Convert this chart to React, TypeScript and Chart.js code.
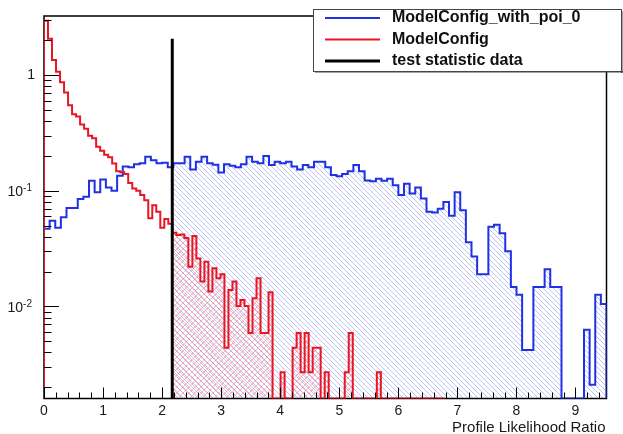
import React, { useEffect, useRef } from 'react';
import { Chart, registerables } from 'chart.js';

Chart.register(...registerables);

// ---- axis ranges ----
const X_MIN = 0;
const X_MAX = 9.525;
const Y_MIN = 0.0016;
const Y_MAX = 3.25;

// ---- binning of each histogram (100 bins each, own range) ----
const N_BINS = 100;
const BLUE_X_MAX = 9.525;
const RED_X_MAX = 6.79;

// ---- observed test statistic ----
const TEST_STAT = 2.172;
const TEST_STAT_TOP = 2.07;

// ---- histogram contents (bin by bin) ----
const BLUE_VALUES = [
  0.047, 0.055, 0.048, 0.059, 0.071, 0.071, 0.085, 0.089, 0.122, 0.097,
  0.125, 0.107, 0.100, 0.135, 0.162, 0.160, 0.170, 0.173, 0.197, 0.184,
  0.173, 0.175, 0.160, 0.173, 0.173, 0.197, 0.153, 0.178, 0.197, 0.173,
  0.168, 0.144, 0.170, 0.165, 0.160, 0.170, 0.197, 0.178, 0.173, 0.200,
  0.167, 0.178, 0.173, 0.178, 0.162, 0.153, 0.167, 0.160, 0.178, 0.178,
  0.160, 0.137, 0.134, 0.140, 0.148, 0.167, 0.148, 0.123, 0.121, 0.127,
  0.122, 0.127, 0.112, 0.092, 0.115, 0.095, 0.107, 0.086, 0.066, 0.065,
  0.070, 0.080, 0.061, 0.097, 0.068, 0.036, 0.027, 0.019, 0.019, 0.049,
  0.051, 0.043, 0.030, 0.0147, 0.0126, 0.0042, 0.0042, 0.0147, 0.0147, 0.021,
  0.0147, 0.0147, 0, 0, 0, 0, 0.0063, 0.0021, 0.0126, 0.0105,
];

const RED_VALUES = [
  2.95, 2.07, 1.35, 1.07, 0.87, 0.71, 0.55, 0.46, 0.44, 0.375,
  0.345, 0.30, 0.285, 0.24, 0.222, 0.205, 0.195, 0.172, 0.148, 0.145,
  0.14, 0.117, 0.105, 0.1, 0.092, 0.083, 0.058, 0.075, 0.066, 0.048,
  0.057, 0.052, 0.0435, 0.0415, 0.042, 0.039, 0.022, 0.0407, 0.026, 0.0164,
  0.0244, 0.0135, 0.0214, 0.0175, 0.019, 0.0044, 0.0139, 0.0164, 0.0101, 0.0114,
  0.0101, 0.0059, 0.0118, 0.0175, 0.0059, 0.0059, 0.0133, 0, 0, 0.0027,
  0, 0, 0.0044, 0.0059, 0.0027, 0.0059, 0.0027, 0.0044, 0.0044, 0,
  0.0027, 0, 0, 0, 0, 0.0027, 0.0059, 0, 0, 0,
  0, 0, 0, 0.0027, 0, 0, 0, 0, 0, 0,
  0, 0, 0, 0, 0, 0, 0, 0, 0, 0,
];

// ---- ticks / labels ----
const X_TICK_VALUES = [0, 1, 2, 3, 4, 5, 6, 7, 8, 9];
const X_TICK_LABELS = ['0', '1', '2', '3', '4', '5', '6', '7', '8', '9'];
const X_MINOR_DIVISIONS = 5;
const Y_TICK_VALUES = [1, 0.1, 0.01];
const Y_TICK_BASES = ['1', '10', '10'];
const Y_TICK_EXPONENTS = ['', '-1', '-2'];
const Y_DECADES = [0.001, 0.01, 0.1, 1];
const Y_MINOR_MULTIPLIERS = [2, 3, 4, 5, 6, 7, 8, 9];
const X_TITLE = 'Profile Likelihood Ratio';

// ---- legend ----
const LEGEND_LABELS = ['ModelConfig_with_poi_0', 'ModelConfig', 'test statistic data'];
const BLUE = 'rgb(32,48,228)';
const RED = 'rgb(232,22,36)';
const BLACK = 'rgb(0,0,0)';
const LEGEND_COLORS = [BLUE, RED, BLACK];
const LEGEND_WIDTHS = [2, 2, 3];

const FONT = '"Liberation Sans", Arial, Helvetica, sans-serif';

function floorVal(v: number) {
  return v > 0 ? v : Y_MIN;
}

function histPoints(values: number[], xmax: number) {
  const w = (xmax - X_MIN) / values.length;
  const pts: { x: number; y: number }[] = [{ x: X_MIN, y: Y_MIN }];
  values.forEach((v, i) => pts.push({ x: X_MIN + i * w, y: floorVal(v) }));
  pts.push({ x: xmax, y: floorVal(values[values.length - 1]) });
  pts.push({ x: xmax, y: Y_MIN });
  return pts;
}

function tailPoints(values: number[], xmax: number, from: number) {
  const w = (xmax - X_MIN) / values.length;
  const k = Math.floor((from - X_MIN) / w);
  const pts: { x: number; y: number }[] = [{ x: from, y: floorVal(values[k]) }];
  for (let i = k + 1; i < values.length; i++) pts.push({ x: X_MIN + i * w, y: floorVal(values[i]) });
  pts.push({ x: xmax, y: floorVal(values[values.length - 1]) });
  return pts;
}

function makeHatch(color: string, size: number, cross: boolean) {
  const c = document.createElement('canvas');
  c.width = size;
  c.height = size;
  const g = c.getContext('2d')!;
  g.strokeStyle = color;
  g.lineWidth = 1;
  g.beginPath();
  g.moveTo(-1, -1);
  g.lineTo(size + 1, size + 1);
  g.moveTo(-1, size - 1);
  g.lineTo(1, size + 1);
  g.moveTo(size - 1, -1);
  g.lineTo(size + 1, 1);
  if (cross) {
    g.moveTo(size + 1, -1);
    g.lineTo(-1, size + 1);
    g.moveTo(1, -1);
    g.lineTo(-1, 1);
    g.moveTo(size + 1, size - 1);
    g.lineTo(size - 1, size + 1);
  }
  g.stroke();
  return g.createPattern(c, 'repeat')!;
}

const rootStylePlugin = {
  id: 'rootStyle',
  beforeDatasetsDraw(chart: any) {
    const { ctx, chartArea: a } = chart;
    ctx.save();
    ctx.strokeStyle = BLACK;
    ctx.lineWidth = 1.5;
    ctx.strokeRect(a.left, a.top, a.right - a.left, a.bottom - a.top);
    ctx.restore();
  },
  afterDatasetsDraw(chart: any) {
    const { ctx, chartArea: a } = chart;
    const xs = chart.scales.x;
    const ys = chart.scales.y;
    ctx.save();
    ctx.strokeStyle = BLACK;
    ctx.lineWidth = 1;
    ctx.beginPath();
    const step = X_TICK_VALUES[1] - X_TICK_VALUES[0];
    for (let t = 0; ; t++) {
      const v = X_TICK_VALUES[0] + (t * step) / X_MINOR_DIVISIONS;
      if (v > X_MAX + 1e-9) break;
      const major = t % X_MINOR_DIVISIONS === 0;
      const px = Math.round(xs.getPixelForValue(v)) + 0.5;
      ctx.moveTo(px, a.bottom);
      ctx.lineTo(px, a.bottom - (major ? 11 : 6));
    }
    Y_TICK_VALUES.forEach((v) => {
      const py = Math.round(ys.getPixelForValue(v)) + 0.5;
      ctx.moveTo(a.left, py);
      ctx.lineTo(a.left + 15, py);
    });
    Y_DECADES.forEach((d) =>
      Y_MINOR_MULTIPLIERS.forEach((m) => {
        const v = d * m;
        if (v < Y_MIN || v > Y_MAX) return;
        const py = Math.round(ys.getPixelForValue(v)) + 0.5;
        ctx.moveTo(a.left, py);
        ctx.lineTo(a.left + 7.5, py);
      })
    );
    ctx.stroke();
    ctx.restore();
  },
  afterDraw(chart: any) {
    const { ctx, chartArea: a } = chart;
    const xs = chart.scales.x;
    const ys = chart.scales.y;
    ctx.save();
    ctx.fillStyle = 'rgb(25,25,25)';
    ctx.font = `14px ${FONT}`;
    ctx.textAlign = 'center';
    ctx.textBaseline = 'middle';
    X_TICK_VALUES.forEach((v, i) => {
      ctx.fillText(X_TICK_LABELS[i], xs.getPixelForValue(v), a.bottom + 12.5);
    });
    Y_TICK_VALUES.forEach((v, i) => {
      const py = ys.getPixelForValue(v);
      const base = Y_TICK_BASES[i];
      const exp = Y_TICK_EXPONENTS[i];
      ctx.textAlign = 'right';
      if (exp) {
        ctx.font = `10px ${FONT}`;
        const ew = ctx.measureText(exp).width;
        ctx.fillText(exp, 32, py - 2.5);
        ctx.font = `14px ${FONT}`;
        ctx.fillText(base, 32 - ew, py + 1.5);
      } else {
        ctx.font = `14px ${FONT}`;
        ctx.fillText(base, 35, py);
      }
    });
    ctx.font = `15px ${FONT}`;
    ctx.textAlign = 'right';
    ctx.fillText(X_TITLE, a.right - 1, a.bottom + 29);

    const lx = 313;
    const ly = 9;
    const lw = 308;
    const lh = 62;
    ctx.fillStyle = '#ffffff';
    ctx.fillRect(lx, ly, lw, lh);
    ctx.strokeStyle = 'rgb(70,70,70)';
    ctx.lineWidth = 1;
    ctx.strokeRect(lx + 0.5, ly + 0.5, lw, lh);
    ctx.fillStyle = 'rgb(70,70,70)';
    ctx.fillRect(lx + 2, ly + lh, lw, 1.5);
    ctx.fillRect(lx + lw, ly + 2, 1.5, lh);
    ctx.font = `bold 16px ${FONT}`;
    ctx.textAlign = 'left';
    ctx.textBaseline = 'middle';
    LEGEND_LABELS.forEach((lab, i) => {
      const y = 18 + i * 21.5;
      ctx.strokeStyle = LEGEND_COLORS[i];
      ctx.lineWidth = LEGEND_WIDTHS[i];
      ctx.beginPath();
      ctx.moveTo(325, y);
      ctx.lineTo(380, y);
      ctx.stroke();
      ctx.fillStyle = 'rgb(15,15,15)';
      ctx.fillText(lab, 392, y);
    });
    ctx.restore();
  },
};

export default function App() {
  const ref = useRef<HTMLCanvasElement>(null);
  useEffect(() => {
    document.body.style.margin = '0';
    const canvas = ref.current!;
    const blueHatch = makeHatch('rgba(120,135,235,0.5)', 5, false);
    const redHatch = makeHatch('rgba(240,120,140,0.5)', 6, true);
    const chart = new Chart(canvas, {
      type: 'line',
      data: {
        datasets: [
          {
            label: LEGEND_LABELS[2],
            data: [
              { x: TEST_STAT, y: Y_MIN },
              { x: TEST_STAT, y: TEST_STAT_TOP },
            ],
            borderColor: BLACK,
            borderWidth: 3,
            pointRadius: 0,
            fill: false,
            order: 0,
          },
          {
            label: LEGEND_LABELS[1],
            data: histPoints(RED_VALUES, RED_X_MAX),
            borderColor: RED,
            borderWidth: 2,
            stepped: 'before',
            pointRadius: 0,
            fill: false,
            order: 1,
          },
          {
            label: LEGEND_LABELS[0],
            data: histPoints(BLUE_VALUES, BLUE_X_MAX),
            borderColor: BLUE,
            borderWidth: 2,
            stepped: 'before',
            pointRadius: 0,
            fill: false,
            order: 2,
          },
          {
            label: 'red tail',
            data: tailPoints(RED_VALUES, RED_X_MAX, TEST_STAT),
            borderColor: 'transparent',
            borderWidth: 0,
            backgroundColor: redHatch,
            stepped: 'before',
            pointRadius: 0,
            fill: 'start',
            order: 3,
          },
          {
            label: 'blue tail',
            data: tailPoints(BLUE_VALUES, BLUE_X_MAX, TEST_STAT),
            borderColor: 'transparent',
            borderWidth: 0,
            backgroundColor: blueHatch,
            stepped: 'before',
            pointRadius: 0,
            fill: 'start',
            order: 4,
          },
        ] as any,
      },
      options: {
        animation: false,
        responsive: false,
        devicePixelRatio: 1,
        events: [],
        layout: { padding: { left: 44, top: 16, right: 16.5, bottom: 35.5 } },
        plugins: { legend: { display: false }, tooltip: { enabled: false } },
        scales: {
          x: { type: 'linear', min: X_MIN, max: X_MAX, display: false },
          y: { type: 'logarithmic', min: Y_MIN, max: Y_MAX, display: false },
        },
      } as any,
      plugins: [rootStylePlugin],
    });
    return () => chart.destroy();
  }, []);
  return (
    <div style={{ width: 623, height: 434 }}>
      <canvas ref={ref} width={623} height={434} style={{ width: 623, height: 434, display: 'block' }} />
    </div>
  );
}
